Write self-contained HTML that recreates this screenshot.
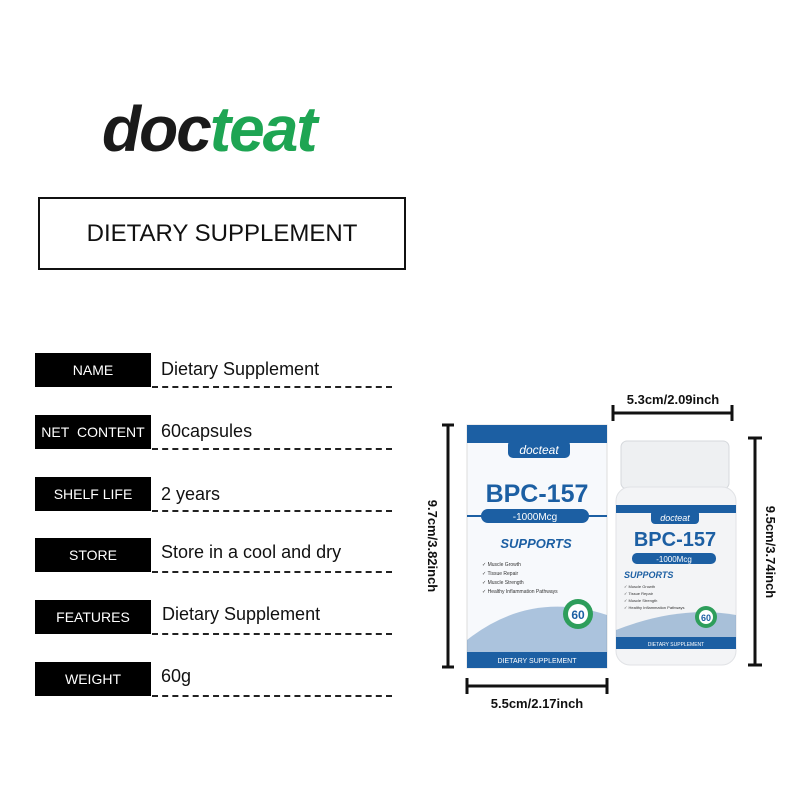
<!DOCTYPE html>
<html><head><style>
body{margin:0;width:800px;height:800px;background:#fff;position:relative;overflow:hidden;font-family:"Liberation Sans",sans-serif}
.a{position:absolute}
.lb{position:absolute;left:35px;width:116px;height:34px;background:#000;color:#fff;font-size:14px;display:flex;align-items:center;justify-content:center}
.v{position:absolute;left:161px;font-size:18px;color:#111}
.d{position:absolute;left:152px;width:240px;border-top:2px dashed #222}
</style></head><body>
<div class="a" style="left:102px;top:92px;font-size:64px;font-weight:bold;font-style:italic;letter-spacing:-2px;color:#1a1a1a">doc<span style="color:#1ea553">teat</span></div>
<div class="a" style="left:38px;top:197px;width:364px;height:69px;border:2px solid #111;display:flex;align-items:center;justify-content:center;font-size:24px;color:#111">DIETARY SUPPLEMENT</div>

<div class="lb" style="top:353px">NAME</div><div class="v" style="top:359px">Dietary Supplement</div><div class="d" style="top:386px"></div>
<div class="lb" style="top:415px">NET&nbsp; CONTENT</div><div class="v" style="top:421px">60capsules</div><div class="d" style="top:448px"></div>
<div class="lb" style="top:477px">SHELF LIFE</div><div class="v" style="top:484px">2 years</div><div class="d" style="top:510px"></div>
<div class="lb" style="top:538px">STORE</div><div class="v" style="top:542px">Store in a cool and dry</div><div class="d" style="top:571px"></div>
<div class="lb" style="top:600px">FEATURES</div><div class="v" style="top:604px;left:162px">Dietary Supplement</div><div class="d" style="top:633px"></div>
<div class="lb" style="top:662px">WEIGHT</div><div class="v" style="top:666px">60g</div><div class="d" style="top:695px"></div>

<svg class="a" style="left:0;top:0" width="800" height="800">
<g stroke="#111" stroke-width="3">
<line x1="448" y1="425" x2="448" y2="667"/><line x1="442" y1="425" x2="454" y2="425"/><line x1="442" y1="667" x2="454" y2="667"/>
<line x1="467" y1="686" x2="607" y2="686"/><line x1="467" y1="678" x2="467" y2="694"/><line x1="607" y1="678" x2="607" y2="694"/>
<line x1="613" y1="413" x2="732" y2="413"/><line x1="613" y1="405" x2="613" y2="421"/><line x1="732" y1="405" x2="732" y2="421"/>
<line x1="755" y1="438" x2="755" y2="665"/><line x1="748" y1="438" x2="762" y2="438"/><line x1="748" y1="665" x2="762" y2="665"/>
</g>
<rect x="467" y="425" width="140" height="243" fill="#f7f9fc" stroke="#ddd"/>
<rect x="467" y="425" width="140" height="18" fill="#1c5fa3"/>
<rect x="508" y="440" width="62" height="18" rx="5" fill="#1c5fa3"/>
<text x="539" y="454" fill="#fff" font-size="12" font-style="italic" text-anchor="middle">docteat</text>
<text x="537" y="502" fill="#1c5fa3" font-size="25" font-weight="bold" text-anchor="middle">BPC-157</text>
<line x1="467" y1="516" x2="607" y2="516" stroke="#1c5fa3" stroke-width="2"/>
<rect x="481" y="509" width="108" height="14" rx="7" fill="#1c5fa3"/>
<text x="535" y="520" fill="#fff" font-size="10" text-anchor="middle">-1000Mcg</text>
<text x="536" y="548" fill="#1c5fa3" font-size="13" font-weight="bold" font-style="italic" text-anchor="middle">SUPPORTS</text>
<g font-size="5" fill="#333"><text x="482" y="566">✓ Muscle Growth</text><text x="482" y="575">✓ Tissue Repair</text><text x="482" y="584">✓ Muscle Strength</text><text x="482" y="593">✓ Healthy Inflammation Pathways</text></g>
<path d="M467 640 Q530 590 607 615 L607 655 L467 655Z" fill="#1c5fa3" opacity="0.35"/>
<circle cx="578" cy="614" r="15" fill="#2e9e5b"/><circle cx="578" cy="614" r="10" fill="#fff"/>
<text x="578" y="619" fill="#1c5fa3" font-size="12" font-weight="bold" text-anchor="middle">60</text>
<rect x="467" y="652" width="140" height="16" fill="#1c5fa3"/>
<text x="537" y="663" fill="#fff" font-size="7" text-anchor="middle">DIETARY SUPPLEMENT</text>
<rect x="621" y="441" width="108" height="48" rx="6" fill="#eef0f2" stroke="#d5d8dc"/>
<rect x="616" y="487" width="120" height="178" rx="14" fill="#f3f4f6" stroke="#e0e2e5"/>
<rect x="616" y="505" width="120" height="8" fill="#1c5fa3"/>
<rect x="651" y="510" width="48" height="14" rx="4" fill="#1c5fa3"/>
<text x="675" y="521" fill="#fff" font-size="9" font-style="italic" text-anchor="middle">docteat</text>
<text x="675" y="546" fill="#1c5fa3" font-size="20" font-weight="bold" text-anchor="middle">BPC-157</text>
<rect x="632" y="553" width="84" height="11" rx="5" fill="#1c5fa3"/>
<text x="674" y="562" fill="#fff" font-size="8" text-anchor="middle">-1000Mcg</text>
<text x="624" y="578" fill="#1c5fa3" font-size="9" font-weight="bold" font-style="italic">SUPPORTS</text>
<g font-size="4" fill="#333"><text x="624" y="588">✓ Muscle Growth</text><text x="624" y="595">✓ Tissue Repair</text><text x="624" y="602">✓ Muscle Strength</text><text x="624" y="609">✓ Healthy Inflammation Pathways</text></g>
<path d="M616 630 Q680 605 736 615 L736 640 L616 640Z" fill="#1c5fa3" opacity="0.35"/>
<circle cx="706" cy="617" r="11" fill="#2e9e5b"/><circle cx="706" cy="617" r="7" fill="#fff"/>
<text x="706" y="621" fill="#1c5fa3" font-size="9" font-weight="bold" text-anchor="middle">60</text>
<rect x="616" y="637" width="120" height="12" fill="#1c5fa3"/>
<text x="676" y="646" fill="#fff" font-size="5" text-anchor="middle">DIETARY SUPPLEMENT</text>
<g font-size="13" fill="#111" font-weight="bold">
<text x="537" y="708" text-anchor="middle">5.5cm/2.17inch</text>
<text x="673" y="404" text-anchor="middle">5.3cm/2.09inch</text>
<text transform="translate(428 546) rotate(90)" text-anchor="middle">9.7cm/3.82inch</text>
<text transform="translate(766 552) rotate(90)" text-anchor="middle">9.5cm/3.74inch</text>
</g>
</svg>
</body></html>
